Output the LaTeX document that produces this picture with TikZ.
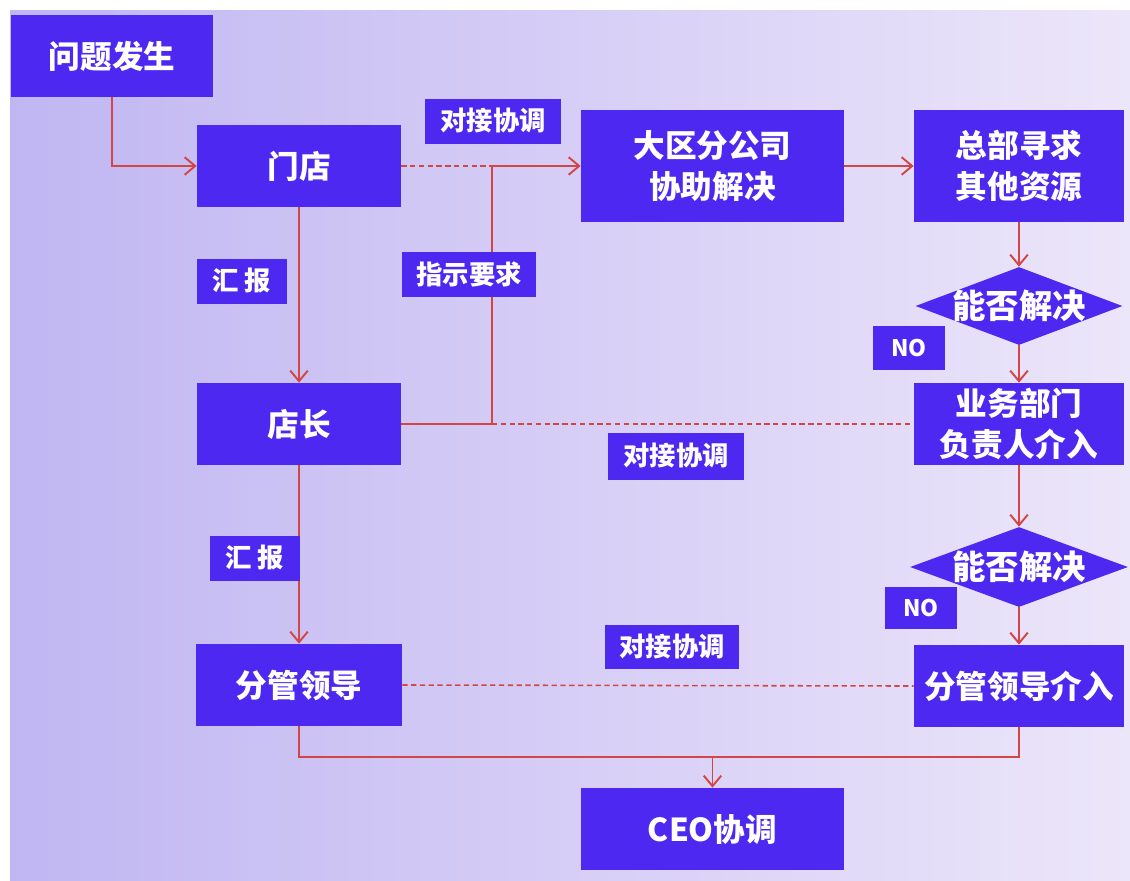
\documentclass[tikz,border=0pt]{standalone}
\usepackage{fontspec}
\setmainfont{Noto Sans CJK SC}
\usepackage{xcolor}
\usetikzlibrary{arrows.meta,shapes.geometric}

\definecolor{boxblue}{RGB}{76,40,240}
\definecolor{linered}{RGB}{212,70,70}
\definecolor{bgleft}{RGB}{192,182,242}
\definecolor{bgright}{RGB}{236,230,250}

\begin{document}
\begin{tikzpicture}[x=0.02cm,y=-0.02cm,
		box/.style={fill=boxblue,text=white,inner sep=0pt,align=center,
			font=\bfseries\fontsize{18}{23}\selectfont},
		tagbox/.style={fill=boxblue,text=white,inner sep=0pt,
			font=\bfseries\fontsize{15}{18}\selectfont},
		decide/.style={diamond,fill=boxblue,inner sep=0pt,
			label={[text=white,font=\bfseries\fontsize{19}{22}\selectfont]center:#1}},
		link/.style={draw=linered,line width=1.1pt},
		dashlink/.style={draw=linered,line width=0.9pt,dash pattern=on 3pt off 2pt},
		>={Straight Barb[length=6pt,width=10pt]}
	]
	% background
	\fill[white] (0,0) rectangle (1130,880);
	\shade[left color=bgleft,right color=bgright] (10,10) rectangle (1130,880);
	%
	\node[box,minimum width=4.04cm,minimum height=1.64cm] (Q) at (112,56) {问题发生};
	\node[box,minimum width=4.08cm,minimum height=1.64cm] (MD) at (299,166) {门店};
	\node[box,minimum width=4.08cm,minimum height=1.64cm] (DZ) at (299,424) {店长};
	\node[box,minimum width=4.12cm,minimum height=1.64cm] (FL) at (299,685) {分管领导};
	\node[box,minimum width=5.26cm,minimum height=2.24cm] (DQ) at (712.5,166) {大区分公司\\协助解决};
	\node[box,minimum width=4.2cm,minimum height=2.24cm] (ZB) at (1019,166) {总部寻求\\其他资源};
	\node[decide=能否解决,minimum width=4.14cm,minimum height=1.56cm] (D1) at (1019,306) {};
	\node[box,minimum width=4.2cm,minimum height=1.64cm] (YW) at (1019,424) {业务部门\\负责人介入};
	\node[decide=能否解决,minimum width=4.36cm,minimum height=1.6cm] (D2) at (1019,567) {};
	\node[box,minimum width=4.2cm,minimum height=1.64cm] (FJ) at (1019,686) {分管领导介入};
	\node[box,minimum width=5.26cm,minimum height=1.64cm] (CEO) at (712.5,829) {CEO协调};
	%
	\coordinate (J1) at (492,166);
	\coordinate (J2) at (492,424);
	\coordinate (J3) at (712.5,757);
	%
	\draw[link,->] (Q.south) |- (MD.west);
	\draw[dashlink] (MD.east) -- (J1);
	\draw[link] (DZ.east) -- (J2) -- (J1);
	\draw[dashlink] (J2) -- (YW.west);
	\draw[dashlink] (FL.east) -- (FJ.west);
	\draw[link] (FL.south) |- (J3) -| (FJ.south);
	\draw[link,->] (J3) -- (CEO.north);
	\draw[link,->] (J1) -- (DQ.west);
	\path[link]
		(DQ) edge[->] (ZB)
		(MD) edge[->] (DZ)
		(DZ) edge[->] (FL)
		(ZB) edge[->] (D1)
		(D1) edge[->] (YW)
		(YW) edge[->] (D2)
		(D2) edge[->] (FJ);
	%
	\node[tagbox,minimum width=2.72cm,minimum height=0.9cm] (T1) at (493,121) {对接协调};
	\node[tagbox,minimum width=1.8cm,minimum height=0.9cm] (T2) at (242,281) {汇\ 报};
	\node[tagbox,minimum width=2.68cm,minimum height=0.9cm] (T3) at (469,274) {指示要求};
	\node[tagbox,minimum width=2.72cm,minimum height=0.94cm] (T4) at (676,456) {对接协调};
	\node[tagbox,minimum width=1.82cm,minimum height=0.9cm] (T5) at (255,558) {汇\ 报};
	\node[tagbox,minimum width=2.7cm,minimum height=0.88cm] (T6) at (672,647) {对接协调};
	\node[tagbox,minimum width=1.44cm,minimum height=0.88cm,font=\bfseries\fontsize{13}{15}\selectfont] (N1) at (909,348) {NO};
	\node[tagbox,minimum width=1.44cm,minimum height=0.84cm,font=\bfseries\fontsize{13}{15}\selectfont] (N2) at (921,608) {NO};
\end{tikzpicture}
\end{document}
